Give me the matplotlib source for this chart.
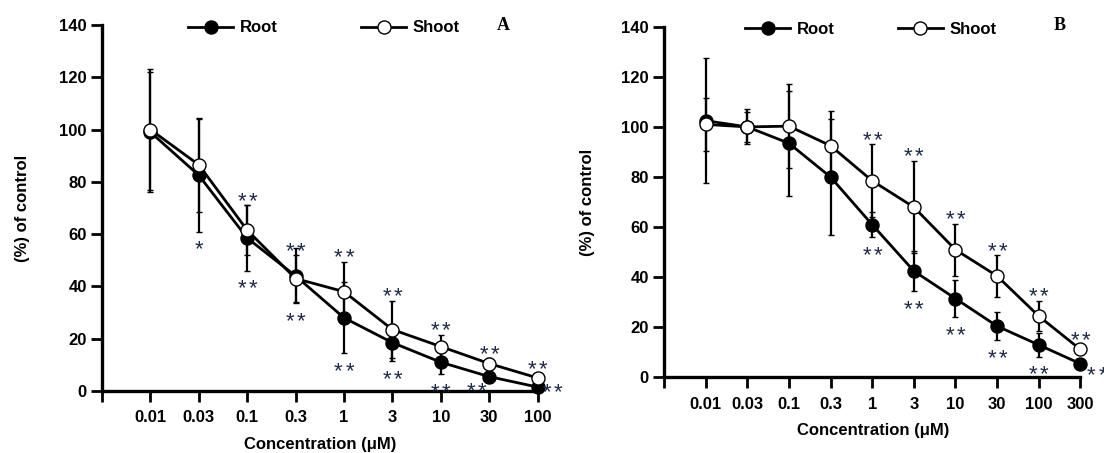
import numpy as np
import matplotlib
matplotlib.use('Agg')
import matplotlib.pyplot as plt
from matplotlib.lines import Line2D

# panel A data
conc_a = ['0.01', '0.03', '0.1', '0.3', '1', '3', '10', '30', '100']
root_a = [99, 82.5, 58.5, 44, 28, 18.5, 11, 5.5, 1.5]
root_a_err = [23, 21.5, 12.5, 10.5, 13.5, 7, 4.5, 1.5, 1]
shoot_a = [100, 86.5, 61.5, 43, 38, 23.5, 17, 10.5, 5]
shoot_a_err = [23, 18, 9.5, 9, 11.5, 11, 4.5, 2, 1.5]
sig_root_a = ['', '*', '**', '**', '**', '**', '**', '**', '**']
sig_shoot_a = ['', '', '**', '**', '**', '**', '**', '**', '**']

# panel B data
conc_b = ['0.01', '0.03', '0.1', '0.3', '1', '3', '10', '30', '100', '300']
root_b = [102.5, 100, 93.5, 80, 61, 42.5, 31.5, 20.5, 13, 5.5]
root_b_err = [25, 7, 21, 23, 5, 8, 7.5, 5.7, 4.7, 1.5]
shoot_b = [101, 100, 100.3, 92.5, 78.5, 68, 51, 40.5, 24.5, 11.2]
shoot_b_err = [10.5, 6, 16.7, 13.8, 14.6, 18.4, 10.4, 8.3, 6.1, 2]
sig_root_b = ['', '', '', '', '**', '**', '**', '**', '**', '**']
sig_shoot_b = ['', '', '', '', '**', '**', '**', '**', '**', '**']

SANS = 'Liberation Sans'
STAR_COLOR = '#1f2a48'
MS = 9.4
STAR_SIZE = 16
STAR_GAP = 8  # points between asterisk centres


def stars(ax, x, y, s, dx, dy):
    # dy is where the centre of the asterisks should sit (points)
    m = len(s)
    for k in range(m):
        off = dx + (k - (m - 1) / 2) * STAR_GAP
        ax.annotate('*', (x, y), xytext=(off, dy - 0.575 * STAR_SIZE),
                    textcoords='offset points', ha='center', va='baseline',
                    fontsize=STAR_SIZE, family=SANS, color=STAR_COLOR,
                    annotation_clip=False, zorder=10)


def panel(ax, conc, root, root_err, shoot, shoot_err, sig_root, sig_shoot,
          legend_x, colspace, xlabel_y, side=None):
    n = len(conc)
    x = np.arange(1, n + 1)

    for y, err, face, z in [(root, root_err, 'k', 3), (shoot, shoot_err, 'white', 4)]:
        eb = ax.errorbar(x, y, yerr=err, fmt='-o', color='k', mfc=face, mec='k',
                         ms=MS, mew=1.0, lw=2, elinewidth=1.6, capsize=2.2,
                         capthick=1.6, ecolor='k', zorder=z)
        for a in [eb.lines[0]] + list(eb.lines[1]) + list(eb.lines[2]):
            a.set_clip_on(False)

    side = side or {}
    for i in range(n):
        stars(ax, x[i], shoot[i] + shoot_err[i], sig_shoot[i], 0, 8)
        if i in side:
            dx, dy = side[i]
            stars(ax, x[i], root[i], sig_root[i], dx, dy)
        else:
            stars(ax, x[i], root[i] - root_err[i], sig_root[i], 0, -8)

    ax.set_xlim(0, n)
    ax.set_ylim(0, 140)
    ax.set_xticks(np.arange(0, n + 1))
    ax.set_xticklabels([''] + conc)
    ax.set_yticks(np.arange(0, 141, 20))
    for sp in ['top', 'right']:
        ax.spines[sp].set_visible(False)
    for sp in ['left', 'bottom']:
        ax.spines[sp].set_linewidth(2.4)
    ax.tick_params(axis='y', length=8, width=2, pad=3)
    ax.tick_params(axis='x', length=8, width=2, pad=6)
    for lab in ax.get_xticklabels() + ax.get_yticklabels():
        lab.set_fontfamily(SANS)
        lab.set_fontweight('bold')
        lab.set_fontsize(12)

    ax.set_xlabel('Concentration (μM)', family=SANS, weight='bold', fontsize=12)
    ax.set_ylabel('(%) of control', family=SANS, weight='bold', fontsize=12)
    ax.xaxis.set_label_coords(0.502, xlabel_y)
    ax.yaxis.set_label_coords(-0.165, 0.5)

    handles = [Line2D([], [], color='k', lw=2, marker='o', ms=MS, mfc='k', mec='k'),
               Line2D([], [], color='k', lw=2, marker='o', ms=MS, mfc='white', mec='k', mew=1.0)]
    ax.legend(handles, ['Root', 'Shoot'], ncol=2, loc='center',
              bbox_to_anchor=(legend_x, 0.992), frameon=False, handlelength=2.7,
              handletextpad=0.4, columnspacing=colspace,
              prop={'family': SANS, 'weight': 'bold', 'size': 12})


fig = plt.figure(figsize=(11.04, 4.53), dpi=100)
axA = fig.add_axes([0.0924, 0.1369, 0.3945, 0.808])
axB = fig.add_axes([0.6014, 0.1667, 0.3772, 0.7744])

panel(axA, conc_a, root_a, root_a_err, shoot_a, shoot_a_err, sig_root_a, sig_shoot_a,
      0.51, 5.0, -0.125, side={7: (-9, -5.3), 8: (11, 1.5)})
panel(axB, conc_b, root_b, root_b_err, shoot_b, shoot_b_err, sig_root_b, sig_shoot_b,
      0.497, 3.75, -0.131, side={9: (12, -3.3)})

fig.text(503.6 / 1104, 1 - 25 / 453, 'A', family='Liberation Serif', weight='bold',
         fontsize=13, ha='center', va='center')
fig.text(1059.6 / 1104, 1 - 25 / 453, 'B', family='Liberation Serif', weight='bold',
         fontsize=13, ha='center', va='center')

fig.savefig('out.png', dpi=100)
